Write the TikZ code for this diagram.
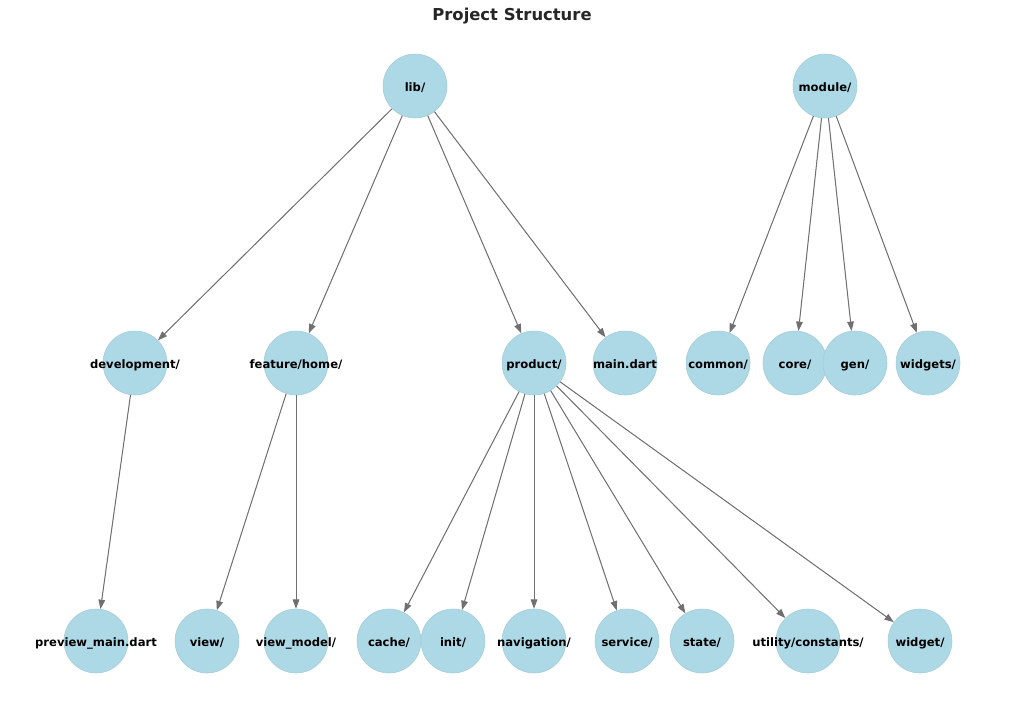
\documentclass[tikz,border=0pt]{standalone}
\usepackage{fontspec}
\setmainfont{DejaVu Sans}
\usepackage{tikz}
\usetikzlibrary{arrows.meta,positioning,calc}
\definecolor{nodeblue}{HTML}{ADD8E6}
\definecolor{edgegray}{HTML}{707070}
\definecolor{titlegray}{HTML}{262626}
\tikzstyle{vertex}=[circle,fill=nodeblue,draw=nodeblue!94!black,line width=0.4pt,minimum size=48pt,inner sep=0pt]
\tikzstyle{edge}=[draw=edgegray,line width=0.75pt,-{Triangle[length=7pt,width=5pt]},fill=edgegray]

\begin{document}
\begin{tikzpicture}[x=0.75pt,y=-0.75pt,font=\bfseries\fontsize{8.7}{10}\selectfont,
  every label/.style={text=black,inner sep=0pt,text height=1.6ex,text depth=0.35ex,yshift=-0.6pt}]
\useasboundingbox[fill=white] (0,0) rectangle (1024,708);
\node[text=titlegray,font=\bfseries\fontsize{12.3}{14}\selectfont] (title) at (512,16) {Project Structure};

% top level
\node[vertex,label=center:{lib/}] (lib) at (415,86) {};
\node[vertex,label=center:{module/}] (module) at (825,86) {};

% second level
\node[vertex,label=center:{development/}] (dev) at (135,363) {};
\node[vertex,label=center:{feature/home/}] (feat) at (296,363) {};
\node[vertex,label=center:{product/}] (prod) at (534,363) {};
\node[vertex,label=center:{main.dart}] (maindart) at (625,363) {};
\node[vertex,label=center:{common/}] (common) at (718,363) {};
\node[vertex,label=center:{core/}] (core) at (795,363) {};
\node[vertex,label=center:{gen/}] (gen) at (855,363) {};
\node[vertex,label=center:{widgets/}] (widgets) at (928,363) {};

% third level
\node[vertex,label=center:{preview\_main.dart}] (preview) at (96,641) {};
\node[vertex,label=center:{view/}] (view) at (207,641) {};
\node[vertex,label=center:{view\_model/}] (viewmodel) at (296,641) {};
\node[vertex,label=center:{cache/}] (cache) at (389,641) {};
\node[vertex,label=center:{init/}] (init) at (453,641) {};
\node[vertex,label=center:{navigation/}] (nav) at (534,641) {};
\node[vertex,label=center:{service/}] (service) at (627,641) {};
\node[vertex,label=center:{state/}] (state) at (702,641) {};
\node[vertex,label=center:{utility/constants/}] (utility) at (808,641) {};
\node[vertex,label=center:{widget/}] (widget) at (920,641) {};

% edges
\foreach \a/\b in {lib/dev,lib/feat,lib/prod,lib/maindart,
                   module/common,module/core,module/gen,module/widgets,
                   dev/preview,feat/view,feat/viewmodel,
                   prod/cache,prod/init,prod/nav,prod/service,prod/state,prod/utility,prod/widget}
  \draw[edge] (\a) -- (\b);
\end{tikzpicture}
\end{document}
